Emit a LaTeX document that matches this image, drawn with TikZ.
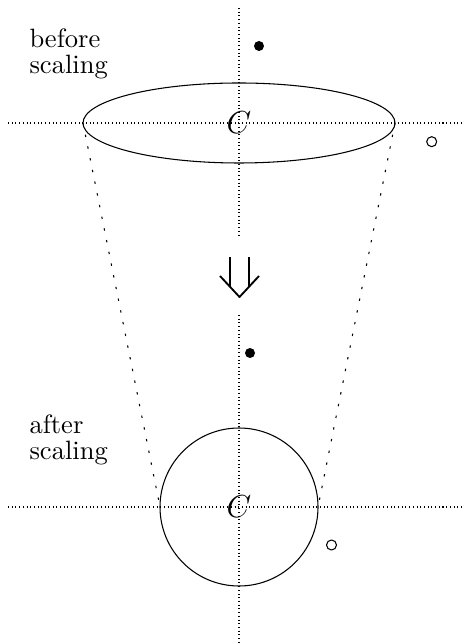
\documentclass[tikz,border=0pt]{standalone}
\begin{document}
\begin{tikzpicture}[x=0.377pt,y=-0.377pt, line join=round,
	axis/.style={densely dotted},
	proj/.style={dash pattern=on 0.9pt off 3.6pt},
	lbl/.style={inner sep=0pt, anchor=base west, align=left}]
	\def\cx{239} \def\ya{123} \def\yb{507} % tâm
	\def\rx{156} \def\ry{40} \def\r{79} % bán kính
	\useasboundingbox (0,0) rectangle (463,643);
	\coordinate (Ca) at (\cx,\ya);
	\coordinate (Cb) at (\cx,\yb);
	\coordinate (La) at (\cx-\rx,\ya); \coordinate (Ra) at (\cx+\rx,\ya);
	\coordinate (Lb) at (\cx-\r,\yb);  \coordinate (Rb) at (\cx+\r,\yb);
	% truc
	\draw[axis] (8,\ya)--(463,\ya);
	\draw[axis] (\cx,8)--(\cx,238);
	\draw[axis] (8,\yb)--(463,\yb);
	\draw[axis] (\cx,315)--(\cx,643);
	% hinh
	\draw (Ca) ellipse [x radius=\rx, y radius=\ry];
	\draw (Cb) circle (\r);
	\draw[proj] (La)--(Lb);
	\draw[proj] (Ra)--(Rb);
	\node[font=\large] (ca) at (Ca) {$C$};
	\node[font=\large] (cb) at (Cb) {$C$};
	\node[lbl] (before) at (29,74) {before\\[-2.2pt]scaling};
	\node[lbl] (after) at (29,459) {after\\[-2.2pt]scaling};
	\foreach \x/\y in{259/46,250/353} \fill (\x,\y) circle(5);
	\foreach \x/\y in{431.7/141.7,331.5/545} \draw (\x,\y) circle(5);
	% mui ten
	\draw[line width=0.7pt] (220,276)--(239.5,297)--(259,276);
	\draw[line width=0.7pt] (230,257)--(230,286.8) (249,257)--(249,286.8);
\end{tikzpicture}
\end{document}
